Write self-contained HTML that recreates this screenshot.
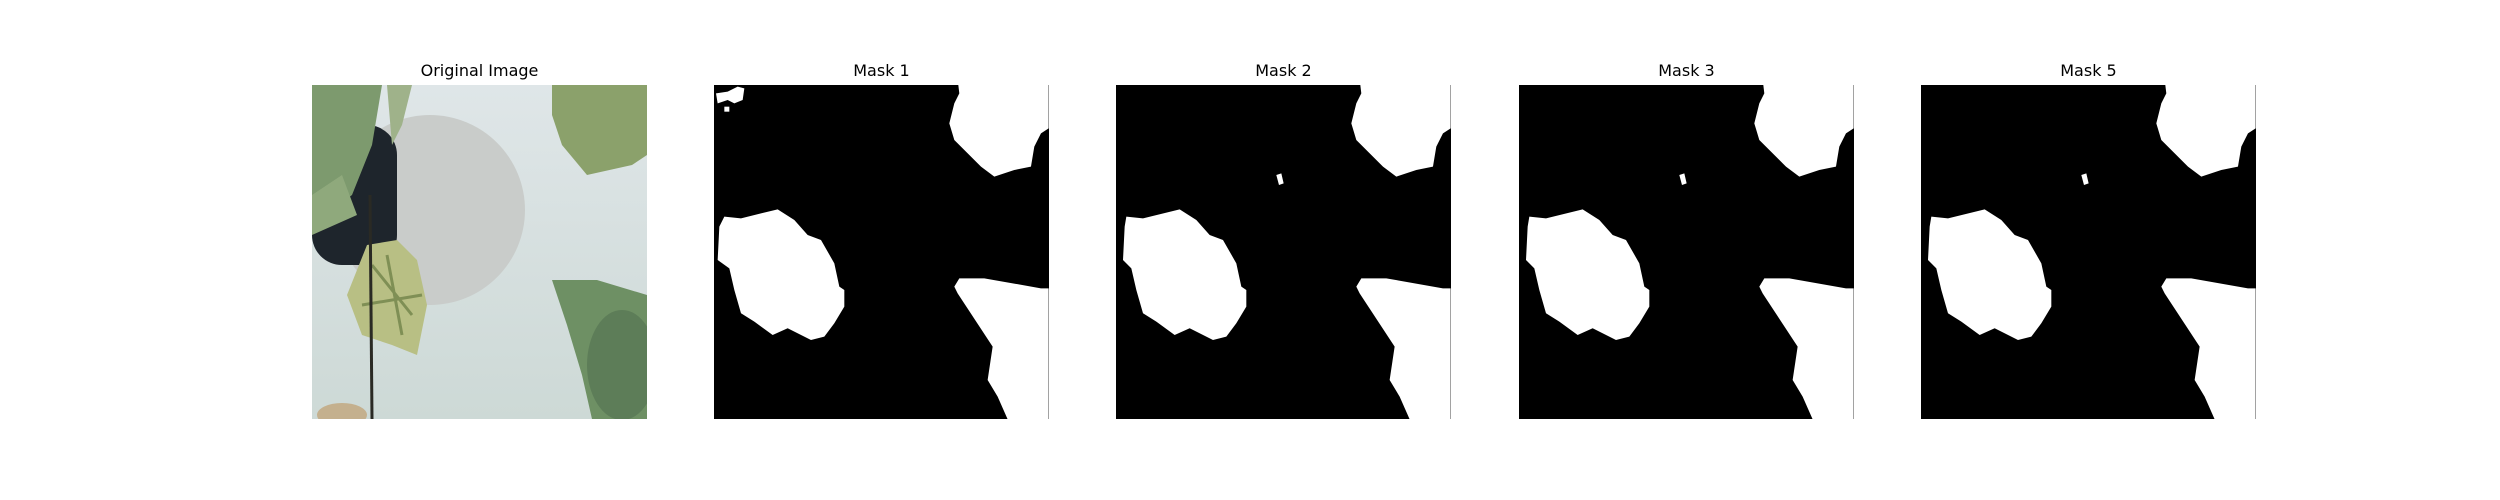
<!DOCTYPE html>
<html><head><meta charset="utf-8"><style>
body{margin:0;background:#fff;width:2500px;height:500px;overflow:hidden;font-family:"DejaVu Sans","Liberation Sans",sans-serif}
.t{position:absolute;top:61px;width:335px;text-align:center;font-size:16px;color:#000}
svg.p{position:absolute;top:85px;width:335px;height:334px}
</style></head><body>
<div class="t" style="left:312px">Original Image</div>
<div class="t" style="left:714px">Mask 1</div>
<div class="t" style="left:1116px">Mask 2</div>
<div class="t" style="left:1519px">Mask 3</div>
<div class="t" style="left:1921px">Mask 5</div>

<svg class="p" style="left:312px" viewBox="0 0 335 334">
<defs><linearGradient id="bg" x1="0" y1="0" x2="0" y2="1"><stop offset="0" stop-color="#dfe6e8"/><stop offset="1" stop-color="#cdd9d6"/></linearGradient></defs>
<rect width="335" height="334" fill="url(#bg)"/>
<circle cx="118" cy="125" r="95" fill="#c9ccca"/>
<rect x="0" y="40" width="85" height="140" rx="30" fill="#1e252c"/>
<path d="M0 0 H70 L60 60 L40 110 L0 140 Z" fill="#7d9a6e"/>
<path d="M0 110 L30 90 L45 130 L0 150 Z" fill="#8fa97c"/>
<path d="M75 0 H100 L90 40 L80 60 Z" fill="#9fb28a"/>
<path d="M55 160 L85 155 L105 175 L115 220 L105 270 L80 260 L50 250 L35 210 Z" fill="#b8bf84"/>
<path d="M60 180 L100 230 M75 170 L90 250 M50 220 L110 210" stroke="#7f8f55" stroke-width="3" fill="none"/>
<path d="M58 110 L60 334" stroke="#2a2a24" stroke-width="3"/>
<ellipse cx="30" cy="330" rx="25" ry="12" fill="#c4b08e"/>
<path d="M240 0 H335 V70 L320 80 L275 90 L250 60 L240 30 Z" fill="#8ba16b"/>
<path d="M240 195 L285 195 L335 210 V334 L280 334 L270 290 L255 240 Z" fill="#6e9064"/>
<ellipse cx="310" cy="280" rx="35" ry="55" fill="#5d7d58"/>
</svg>

<svg class="p" style="left:714px" viewBox="0 0 335 334">
<rect width="335" height="334" fill="#000"/>
<g transform="scale(0.3333) translate(-39,-75)" fill="#fff">
<polygon points="70,470 120,475 230,448 280,480 320,525 360,540 400,610 415,680 430,690 430,740 400,790 370,830 330,840 260,805 215,825 160,785 120,760 100,690 85,625 50,600 55,500"/>
<polygon points="772,75 1043,75 1043,205 1020,220 1000,260 990,320 940,330 880,350 840,320 760,240 745,190 760,130 775,100"/>
<polygon points="775,655 850,655 1020,685 1043,685 1043,1078 920,1078 890,1010 860,960 875,860 770,700 760,680"/>
<polygon points="45,100 80,95 110,80 130,85 125,120 100,130 80,120 50,130"/>
<rect x="70" y="140" width="15" height="15"/>
</g></svg>

<svg class="p" style="left:1116px" viewBox="0 0 335 334">
<rect width="335" height="334" fill="#000"/>
<g transform="scale(0.3333) translate(-39,-75)" fill="#fff">
<polygon points="70,470 120,475 230,448 280,480 320,525 360,540 400,610 415,680 430,690 430,740 400,790 370,830 330,840 260,805 215,825 160,785 120,760 100,690 85,625 60,600 65,500"/>
<polygon points="772,75 1043,75 1043,205 1020,220 1000,260 990,320 940,330 880,350 840,320 760,240 745,190 760,130 775,100"/>
<polygon points="775,655 850,655 1020,685 1043,685 1043,1078 920,1078 890,1010 860,960 875,860 770,700 760,680"/>
<polygon points="520,345 535,340 542,370 528,375"/>
</g></svg>

<svg class="p" style="left:1519px" viewBox="0 0 335 334">
<rect width="335" height="334" fill="#000"/>
<g transform="scale(0.3333) translate(-39,-75)" fill="#fff">
<polygon points="70,470 120,475 230,448 280,480 320,525 360,540 400,610 415,680 430,690 430,740 400,790 370,830 330,840 260,805 215,825 160,785 120,760 100,690 85,625 60,600 65,500"/>
<polygon points="772,75 1043,75 1043,205 1020,220 1000,260 990,320 940,330 880,350 840,320 760,240 745,190 760,130 775,100"/>
<polygon points="775,655 850,655 1020,685 1043,685 1043,1078 920,1078 890,1010 860,960 875,860 770,700 760,680"/>
<polygon points="520,345 535,340 542,370 528,375"/>
</g></svg>

<svg class="p" style="left:1921px" viewBox="0 0 335 334">
<rect width="335" height="334" fill="#000"/>
<g transform="scale(0.3333) translate(-39,-75)" fill="#fff">
<polygon points="70,470 120,475 230,448 280,480 320,525 360,540 400,610 415,680 430,690 430,740 400,790 370,830 330,840 260,805 215,825 160,785 120,760 100,690 85,625 60,600 65,500"/>
<polygon points="772,75 1043,75 1043,205 1020,220 1000,260 990,320 940,330 880,350 840,320 760,240 745,190 760,130 775,100"/>
<polygon points="775,655 850,655 1020,685 1043,685 1043,1078 920,1078 890,1010 860,960 875,860 770,700 760,680"/>
<polygon points="520,345 535,340 542,370 528,375"/>
</g></svg>
</body></html>
